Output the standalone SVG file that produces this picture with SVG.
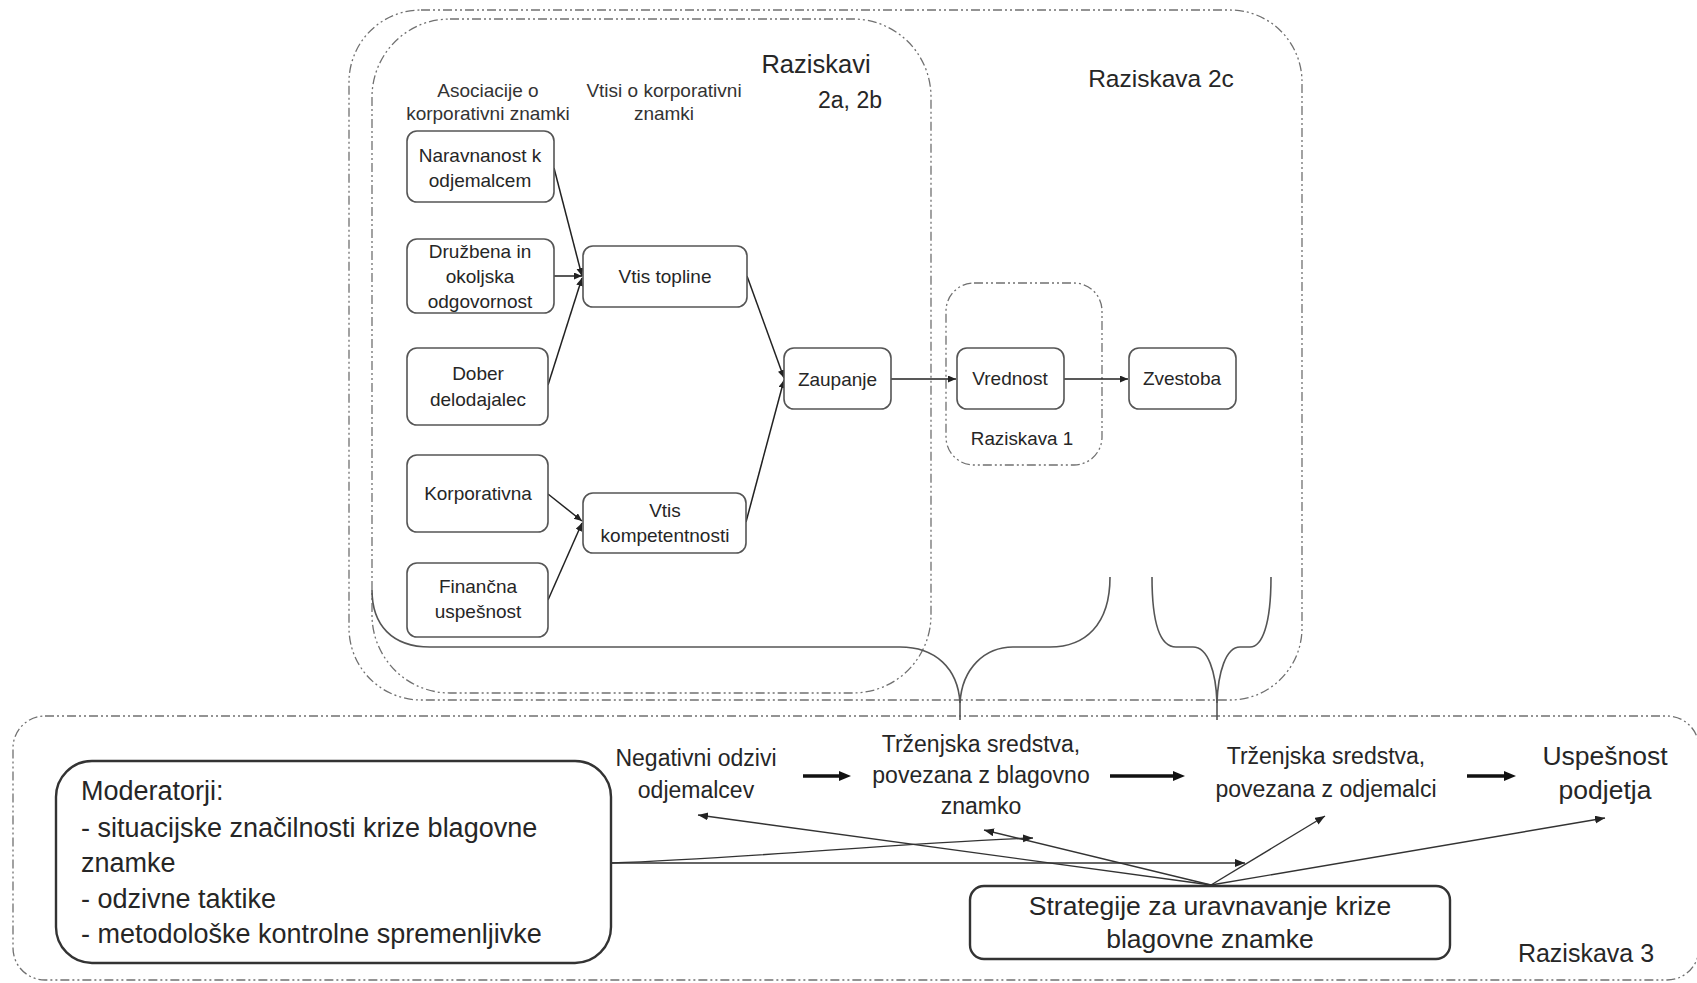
<svg xmlns="http://www.w3.org/2000/svg" width="1697" height="983" viewBox="0 0 1697 983">
  <defs>
    <style>
      text { font-family: "Liberation Sans", Arial, sans-serif; fill: #262626; }
      .zone { fill: none; stroke: #707070; stroke-width: 1.3; stroke-dasharray: 9 3 2 3 2 3; }
      .node rect { fill: #ffffff; stroke: #555555; stroke-width: 1.6; }
      .box rect { fill: #ffffff; stroke: #333333; stroke-width: 2.4; }
      .lbl { font-size: 19px; text-anchor: middle; }
      .hdr { font-size: 19px; text-anchor: middle; fill: #333333; }
      .flow { font-size: 23px; text-anchor: middle; }
      .big { font-size: 26.5px; text-anchor: middle; }
      .mod { font-size: 27px; }
      .edge { fill: none; stroke: #222222; stroke-width: 1.5; }
      .thin { fill: none; stroke: #333333; stroke-width: 1.4; }
      .thick { fill: none; stroke: #111111; stroke-width: 3.5; }
      .brace { fill: none; stroke: #555555; stroke-width: 1.6; }
    </style>
    <marker id="ah" markerUnits="userSpaceOnUse" markerWidth="9" markerHeight="8" refX="8" refY="3.5" orient="auto">
      <path d="M0,0 L8,3.5 L0,7 z" fill="#222222"/>
    </marker>
    <marker id="ahl" markerUnits="userSpaceOnUse" markerWidth="12" markerHeight="10" refX="10" refY="4" orient="auto">
      <path d="M0,0 L10,4 L0,8 z" fill="#222222"/>
    </marker>
    <marker id="ahb" markerUnits="userSpaceOnUse" markerWidth="14" markerHeight="12" refX="2" refY="5" orient="auto">
      <path d="M0,0 L12,5 L0,10 z" fill="#111111"/>
    </marker>
  </defs>

  <rect width="1697" height="983" fill="#ffffff"/>

  <!-- study zones (dash-dot frames) -->
  <g id="zones">
    <rect id="zone-2c" class="zone" x="349" y="10" width="953" height="690" rx="72"/>
    <rect id="zone-2ab" class="zone" x="372" y="19" width="559" height="674" rx="78"/>
    <rect id="zone-1" class="zone" x="946" y="283" width="156" height="182" rx="28"/>
    <rect id="zone-3" class="zone" x="13" y="716" width="1686" height="264" rx="32"/>
    <text x="816" y="73" style="font-size:25.5px;text-anchor:middle">Raziskavi</text>
    <text x="850" y="108" style="font-size:23px;text-anchor:middle">2a, 2b</text>
    <text x="1161" y="87" style="font-size:24.5px;text-anchor:middle">Raziskava 2c</text>
    <text x="1022" y="445" style="font-size:18.8px;text-anchor:middle">Raziskava 1</text>
    <text x="1586" y="962" style="font-size:25px;text-anchor:middle">Raziskava 3</text>
  </g>

  <!-- column headings -->
  <g id="headings">
    <text class="hdr" x="488" y="97">Asociacije o</text>
    <text class="hdr" x="488" y="120">korporativni znamki</text>
    <text class="hdr" x="664" y="97">Vtisi o korporativni</text>
    <text class="hdr" x="664" y="120">znamki</text>
  </g>

  <!-- braces linking the upper studies to the lower study -->
  <g id="braces">
    <path class="brace" d="M372,590 C372,625 392,647 430,647 L900,647 C935,647 958,668 960,703 C962,668 985,647 1013,647 L1050,647 C1085,647 1110,625 1110,577"/>
    <path class="brace" d="M960,700 L960,720"/>
    <path class="brace" d="M1152,577 C1152,622 1160,647 1176,647 L1193,647 C1208,647 1216,672 1217,703 C1218,672 1226,647 1240,647 L1250,647 C1262,647 1271,625 1271,577"/>
    <path class="brace" d="M1217,700 L1217,720"/>
  </g>

  <!-- connectors -->
  <g id="connectors">
    <path class="edge" d="M554,168 L582,276" marker-end="url(#ah)"/>
    <path class="edge" d="M554,276 L582,276" marker-end="url(#ah)"/>
    <path class="edge" d="M548,385 L582,278" marker-end="url(#ah)"/>
    <path class="edge" d="M548,494 L582,521" marker-end="url(#ah)"/>
    <path class="edge" d="M548,600 L582,523" marker-end="url(#ah)"/>
    <path class="edge" d="M747,276 L784,378" marker-end="url(#ah)"/>
    <path class="edge" d="M746,522 L784,380" marker-end="url(#ah)"/>
    <path class="edge" d="M891,379 L956,379" marker-end="url(#ah)"/>
    <path class="edge" d="M1064,379 L1128,379" marker-end="url(#ah)"/>

    <path class="thick" d="M803,776 L841,776" marker-end="url(#ahb)"/>
    <path class="thick" d="M1110,776 L1175,776" marker-end="url(#ahb)"/>
    <path class="thick" d="M1467,776 L1506,776" marker-end="url(#ahb)"/>

    <path class="thin" d="M1211,885 L698,815" marker-end="url(#ahl)"/>
    <path class="thin" d="M1211,885 L984,830" marker-end="url(#ahl)"/>
    <path class="thin" d="M1211,885 L1325,816" marker-end="url(#ahl)"/>
    <path class="thin" d="M1211,885 L1605,818" marker-end="url(#ahl)"/>
    <path class="thin" d="M611,863 C750,858 900,843 1033,838" marker-end="url(#ahl)"/>
    <path class="thin" d="M611,863 L1245,863" marker-end="url(#ahl)"/>
  </g>

  <!-- upper model nodes -->
  <g id="n-naravnanost" class="node">
    <rect x="407" y="131" width="147" height="71" rx="10"/>
    <text class="lbl" x="480" y="162">Naravnanost k</text>
    <text class="lbl" x="480" y="187">odjemalcem</text>
  </g>
  <g id="n-druzbena" class="node">
    <rect x="407" y="239" width="147" height="74" rx="10"/>
    <text class="lbl" x="480" y="258">Družbena in</text>
    <text class="lbl" x="480" y="283">okoljska</text>
    <text class="lbl" x="480" y="308">odgovornost</text>
  </g>
  <g id="n-dober" class="node">
    <rect x="407" y="348" width="141" height="77" rx="10"/>
    <text class="lbl" x="478" y="380">Dober</text>
    <text class="lbl" x="478" y="406">delodajalec</text>
  </g>
  <g id="n-korporativna" class="node">
    <rect x="407" y="455" width="141" height="77" rx="10"/>
    <text class="lbl" x="478" y="500">Korporativna</text>
  </g>
  <g id="n-financna" class="node">
    <rect x="407" y="563" width="141" height="74" rx="10"/>
    <text class="lbl" x="478" y="593">Finančna</text>
    <text class="lbl" x="478" y="618">uspešnost</text>
  </g>
  <g id="n-toplina" class="node">
    <rect x="583" y="246" width="164" height="61" rx="10"/>
    <text class="lbl" x="665" y="283">Vtis topline</text>
  </g>
  <g id="n-kompetentnost" class="node">
    <rect x="583" y="493" width="163" height="60" rx="10"/>
    <text class="lbl" x="665" y="517">Vtis</text>
    <text class="lbl" x="665" y="542">kompetentnosti</text>
  </g>
  <g id="n-zaupanje" class="node">
    <rect x="784" y="348" width="107" height="61" rx="10"/>
    <text class="lbl" x="837.5" y="386">Zaupanje</text>
  </g>
  <g id="n-vrednost" class="node">
    <rect x="957" y="348" width="107" height="61" rx="10"/>
    <text class="lbl" x="1010" y="385">Vrednost</text>
  </g>
  <g id="n-zvestoba" class="node">
    <rect x="1129" y="348" width="107" height="61" rx="10"/>
    <text class="lbl" x="1182" y="385">Zvestoba</text>
  </g>

  <!-- lower model -->
  <g id="n-negativni">
    <text class="flow" x="696" y="766">Negativni odzivi</text>
    <text class="flow" x="696" y="798">odjemalcev</text>
  </g>
  <g id="n-sredstva-znamka">
    <text class="flow" x="981" y="752">Trženjska sredstva,</text>
    <text class="flow" x="981" y="783">povezana z blagovno</text>
    <text class="flow" x="981" y="814">znamko</text>
  </g>
  <g id="n-sredstva-odjemalci">
    <text class="flow" x="1326" y="764">Trženjska sredstva,</text>
    <text class="flow" x="1326" y="797">povezana z odjemalci</text>
  </g>
  <g id="n-uspesnost">
    <text class="big" x="1605" y="765">Uspešnost</text>
    <text class="big" x="1605" y="799">podjetja</text>
  </g>
  <g id="n-moderatorji" class="box">
    <rect x="56" y="761" width="555" height="202" rx="36"/>
    <text class="mod" x="81" y="800">Moderatorji:</text>
    <text class="mod" x="81" y="837">- situacijske značilnosti krize blagovne</text>
    <text class="mod" x="81" y="872">znamke</text>
    <text class="mod" x="81" y="908">- odzivne taktike</text>
    <text class="mod" x="81" y="943">- metodološke kontrolne spremenljivke</text>
  </g>
  <g id="n-strategije" class="box">
    <rect x="970" y="886" width="480" height="73" rx="14"/>
    <text class="big" x="1210" y="915">Strategije za uravnavanje krize</text>
    <text class="big" x="1210" y="948">blagovne znamke</text>
  </g>
</svg>
